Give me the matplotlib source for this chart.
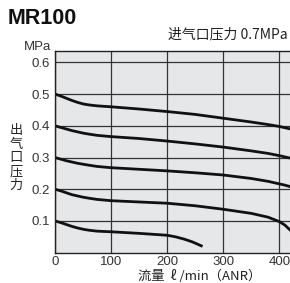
"""MR100 regulator flow characteristics (outlet pressure vs flow)."""
import numpy as np
import matplotlib

matplotlib.use("Agg")
import matplotlib.pyplot as plt

plt.rcParams["font.family"] = ["Liberation Sans", "Noto Sans CJK SC", "DejaVu Sans"]
cjk = ["Noto Sans CJK SC", "DejaVu Sans"]

# flow (l/min ANR) vs outlet pressure (MPa), inlet 0.7 MPa
flow_a = [0, 10, 20, 30, 40, 50, 60, 75, 100, 150, 200, 250, 300, 350, 380, 400, 410, 420]
p05 = [0.500, 0.494, 0.487, 0.480, 0.474, 0.469, 0.466, 0.463, 0.460, 0.453, 0.445,
       0.436, 0.424, 0.412, 0.404, 0.398, 0.394, 0.390]
p04 = [0.400, 0.395, 0.390, 0.385, 0.381, 0.377, 0.374, 0.370, 0.366, 0.360, 0.352,
       0.343, 0.333, 0.321, 0.313, 0.306, 0.302, 0.298]
p03 = [0.300, 0.295, 0.290, 0.286, 0.282, 0.279, 0.276, 0.272, 0.268, 0.263, 0.258,
       0.252, 0.245, 0.234, 0.225, 0.217, 0.213, 0.208]
p02 = [0.200, 0.195, 0.189, 0.183, 0.179, 0.175, 0.172, 0.168, 0.164, 0.160, 0.156,
       0.148, 0.137, 0.124, 0.112, 0.098, 0.087, 0.070]
flow_b = [0, 10, 20, 30, 40, 50, 60, 75, 100, 150, 200, 215, 230, 245, 263]
p01 = [0.100, 0.095, 0.089, 0.083, 0.078, 0.074, 0.071, 0.068, 0.066, 0.061, 0.055,
       0.050, 0.043, 0.034, 0.020]

xticks = [0, 100, 200, 300, 400]
yticks = [0.1, 0.2, 0.3, 0.4, 0.5, 0.6]
ylabel_chars = ["出", "气", "口", "压", "力"]

fig = plt.figure(figsize=(2.9, 2.83), dpi=100)
ax = fig.add_axes([0.19, 0.107, 0.81, 0.714])
ax.set_facecolor("#e6e7e8")

for ys in (p05, p04, p03, p02):
    ax.plot(flow_a, ys, color="#111111", lw=2.0, solid_capstyle="butt",
            solid_joinstyle="round")
ax.plot(flow_b, p01, color="#111111", lw=2.0, solid_capstyle="butt",
        solid_joinstyle="round")

ax.set_xlim(0, 419)
ax.set_ylim(0, 0.637)
ax.set_xticks(xticks)
ax.set_xticklabels([str(v) for v in xticks])
ax.set_yticks(yticks)
ax.set_yticklabels([f"{v:.1f}" for v in yticks])
ax.tick_params(length=0, labelsize=9.5, colors="#333333")
ax.tick_params(axis="x", pad=2.5)
ax.tick_params(axis="y", pad=4)
ax.grid(True, color="#333333", lw=0.9)
ax.set_axisbelow(True)
for side in ("left", "top", "bottom"):
    ax.spines[side].set_color("#222222")
    ax.spines[side].set_linewidth(1.0)
ax.spines["right"].set_visible(False)

fig.text(0.026, 0.935, "MR100", fontsize=15.5, fontweight="bold", color="#111111", va="center")
fig.text(0.993, 0.877, "进气口压力 0.7MPa", fontsize=10, family=cjk, color="#222222",
         ha="right", va="center")
fig.text(0.176, 0.834, "MPa", fontsize=9.5, color="#333333", ha="right", va="center")
for i, ch in enumerate(ylabel_chars):
    fig.text(0.055, 0.442 - (i - 2) * 0.049, ch, fontsize=9.5, family=cjk,
             color="#222222", ha="center", va="center")
fig.text(0.69, 0.024, "流量  ℓ /min（ANR）", fontsize=9.5, family=cjk, color="#222222",
         ha="center", va="center")

fig.savefig("out.png", dpi=100)
